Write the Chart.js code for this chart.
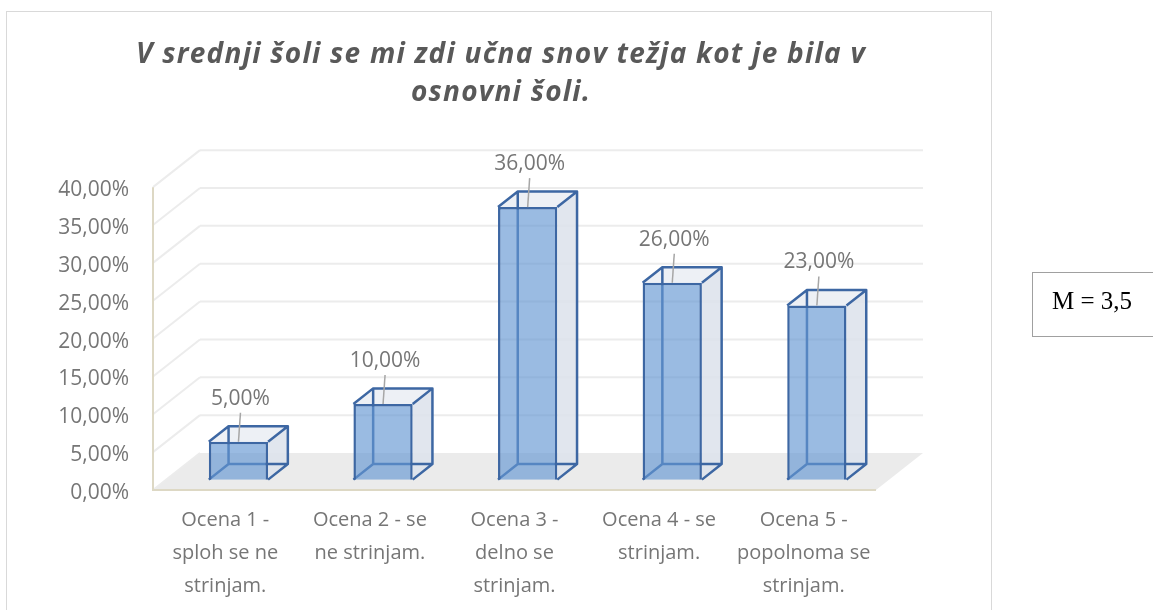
<!DOCTYPE html>
<html>
<head>
<meta charset="utf-8">
<script src="https://cdn.jsdelivr.net/npm/chart.js@4.4.1/dist/chart.umd.min.js"></script>
<style>
  body { margin: 0; background: #fff; }
  #frame {
    position: absolute; left: 6px; top: 11px; width: 986px; height: 640px;
    border: 1.5px solid #d9d9d9; box-sizing: border-box;
  }
  #chart { position: absolute; left: 0; top: 0; }
  #mbox {
    position: absolute; left: 1032px; top: 272px; width: 140px; height: 65px;
    border: 1px solid #a0a0a0; box-sizing: border-box;
    font-family: "Liberation Serif", serif; font-size: 25px; color: #000;
    padding: 14px 0 0 19px;
  }
</style>
</head>
<body>
<div id="frame"></div>
<canvas id="chart" width="1153" height="610"></canvas>
<div id="mbox">M = 3,5</div>
<script>
const titleLines = ["V srednji šoli se mi zdi učna snov težja kot je bila v", "osnovni šoli."];
const categories = [
  ["Ocena 1 -", "sploh se ne", "strinjam."],
  ["Ocena 2 - se", "ne strinjam."],
  ["Ocena 3 -", "delno se", "strinjam."],
  ["Ocena 4 - se", "strinjam."],
  ["Ocena 5 -", "popolnoma se", "strinjam."],
];
const shares = [5, 10, 36, 26, 23];
const yTicks = [0, 5, 10, 15, 20, 25, 30, 35, 40];

// 3D look (pixels): depth of the floor, and where the boxes sit in it
const DEPTH = { dx: 47, dy: -37 };
const BOX_FRONT = 0.28;
const BOX_BACK = 0.70;

const fmt = (v) => v.toFixed(2).replace(".", ",") + "%";

const edgeColor = "#3d67a3";

const threeD = {
  id: "threeD",
  beforeDraw(chart) {
    // spaced-out title, like the original (tick labels are drawn later, with z: 1)
    chart.ctx.letterSpacing = "1.25px";
  },
  beforeDatasetsDraw(chart) {
    const { ctx, chartArea: a, scales } = chart;
    ctx.letterSpacing = "0px";
    const y = scales.y;
    ctx.save();
    // floor
    ctx.fillStyle = "#ebebeb";
    ctx.beginPath();
    ctx.moveTo(a.left, a.bottom);
    ctx.lineTo(a.right, a.bottom);
    ctx.lineTo(a.right + DEPTH.dx, a.bottom + DEPTH.dy);
    ctx.lineTo(a.left + DEPTH.dx, a.bottom + DEPTH.dy);
    ctx.closePath();
    ctx.fill();
    // back wall gridlines and side diagonals
    ctx.strokeStyle = "#ececec";
    ctx.lineWidth = 2;
    yTicks.forEach((t) => {
      const py = y.getPixelForValue(t);
      if (t > 0) {
        ctx.beginPath();
        ctx.moveTo(a.left + DEPTH.dx, py + DEPTH.dy);
        ctx.lineTo(a.right + DEPTH.dx, py + DEPTH.dy);
        ctx.stroke();
      }
      ctx.beginPath();
      ctx.moveTo(a.left, py);
      ctx.lineTo(a.left + DEPTH.dx, py + DEPTH.dy);
      ctx.stroke();
    });
    // front axis lines
    ctx.strokeStyle = "#ddd8c4";
    ctx.lineWidth = 2;
    ctx.beginPath();
    ctx.moveTo(a.left, a.top);
    ctx.lineTo(a.left, a.bottom);
    ctx.lineTo(a.right, a.bottom);
    ctx.stroke();

    // box sides, top and hidden edges
    const fx = DEPTH.dx * BOX_FRONT, fy = DEPTH.dy * BOX_FRONT;
    const bx = DEPTH.dx * (BOX_BACK - BOX_FRONT), by = DEPTH.dy * (BOX_BACK - BOX_FRONT);
    ctx.lineJoin = "round";
    chart.getDatasetMeta(0).data.forEach((bar) => {
      const l = bar.x - bar.width / 2 + fx, r = bar.x + bar.width / 2 + fx;
      const t = bar.y + fy, b = bar.base + fy;
      // right face
      ctx.fillStyle = "rgba(222,227,236,0.9)";
      ctx.beginPath();
      ctx.moveTo(r, t); ctx.lineTo(r + bx, t + by); ctx.lineTo(r + bx, b + by); ctx.lineTo(r, b);
      ctx.closePath(); ctx.fill();
      // top face
      ctx.fillStyle = "rgba(236,239,244,0.95)";
      ctx.beginPath();
      ctx.moveTo(l, t); ctx.lineTo(l + bx, t + by); ctx.lineTo(r + bx, t + by); ctx.lineTo(r, t);
      ctx.closePath(); ctx.fill();
      // edges
      ctx.strokeStyle = edgeColor;
      ctx.lineWidth = 2.5;
      ctx.beginPath();
      ctx.rect(l + bx, t + by, r - l, b - t);
      ctx.moveTo(l, t); ctx.lineTo(l + bx, t + by);
      ctx.moveTo(r, t); ctx.lineTo(r + bx, t + by);
      ctx.moveTo(l, b); ctx.lineTo(l + bx, b + by);
      ctx.moveTo(r, b); ctx.lineTo(r + bx, b + by);
      ctx.stroke();
    });
    ctx.restore();
    // the library draws the front faces, shifted into the floor
    ctx.save();
    ctx.translate(fx, fy);
  },
  afterDatasetsDraw(chart) {
    const { ctx } = chart;
    ctx.restore();
    ctx.letterSpacing = "0px";
    const fx = DEPTH.dx * BOX_FRONT, fy = DEPTH.dy * BOX_FRONT;
    ctx.save();
    ctx.font = "21px 'Open Sans'";
    ctx.textAlign = "center";
    ctx.textBaseline = "middle";
    chart.getDatasetMeta(0).data.forEach((bar, i) => {
      const cx = bar.x + fx, top = bar.y + fy;
      const ly = top - 43;
      ctx.strokeStyle = "#a6a6a6";
      ctx.lineWidth = 1.5;
      ctx.beginPath();
      ctx.moveTo(cx + 2, ly + 14);
      ctx.lineTo(cx, top);
      ctx.stroke();
      ctx.fillStyle = "#767676";
      ctx.fillText(fmt(shares[i]), cx + 2, ly);
    });
    ctx.restore();
  },
};

new Chart(document.getElementById("chart"), {
  type: "bar",
  data: {
    labels: categories,
    datasets: [{
      data: shares,
      backgroundColor: "rgba(100,150,210,0.65)",
      borderColor: edgeColor,
      borderWidth: 2.5,
      barPercentage: 0.41,
      categoryPercentage: 1,
      clip: false,
    }],
  },
  options: {
    responsive: false,
    animation: false,
    layout: { padding: { left: 0, right: 151, top: 0, bottom: 0 } },
    plugins: {
      legend: { display: false },
      tooltip: { enabled: false },
      title: {
        display: true,
        text: titleLines,
        color: "#595959",
        font: { family: "'Open Sans'", size: 28, style: "italic", weight: "bold", lineHeight: 1.36 },
        padding: { top: 36, bottom: 75 },
      },
    },
    scales: {
      x: {
        grid: { display: false, drawTicks: false },
        border: { display: false },
        ticks: {
          z: 1,
          color: "#767676",
          font: { family: "'Open Sans'", size: 20, lineHeight: 1.65 },
          padding: 14,
          maxRotation: 0,
          autoSkip: false,
        },
        afterFit: (s) => { s.height = 120; },
      },
      y: {
        min: 0,
        max: 40,
        grid: { display: false, drawTicks: false },
        border: { display: false },
        ticks: {
          z: 1,
          stepSize: 5,
          color: "#767676",
          font: { family: "'Open Sans'", size: 21 },
          padding: 24,
          labelOffset: 3,
          callback: (v) => fmt(v),
        },
        afterFit: (s) => { s.width = 153; },
      },
      // empty right margin, so the title centres over the chart frame
      gap: {
        position: "right",
        grid: { display: false },
        border: { display: false },
        ticks: { display: false },
        afterFit: (s) => { s.width = 126; },
      },
    },
  },
  plugins: [threeD],
});
</script>
</body>
</html>
